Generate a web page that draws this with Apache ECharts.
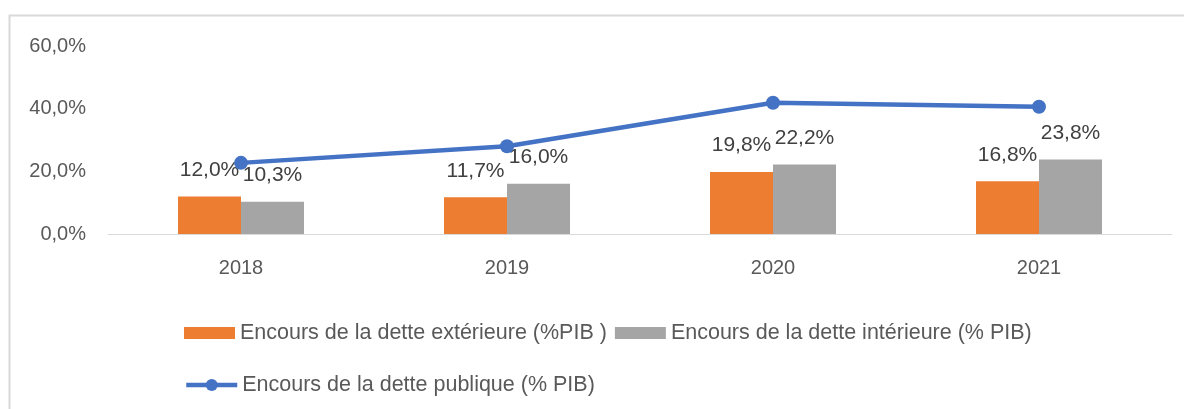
<!DOCTYPE html>
<html>
<head>
  <meta charset="utf-8">
  <title>Encours de la dette</title>
  <script src="https://cdn.jsdelivr.net/npm/echarts@6/dist/echarts.min.js"></script>
</head>
<body style="margin:0">
  <div id="container" style="height: 409px; width: 1184px"></div>
  <script>
    const years = ['2018', '2019', '2020', '2021'];
    const detteExterieure = [12.0, 11.7, 19.8, 16.8];
    const detteInterieure = [10.3, 16.0, 22.2, 23.8];
    const dettePublique = [22.7, 28.0, 41.9, 40.6];
    const yTicks = { min: 0, max: 60, interval: 20 };

    const names = [
      'Encours de la dette extérieure (%PIB )',
      'Encours de la dette intérieure (% PIB)',
      'Encours de la dette publique (% PIB)'
    ];

    const pct = function (v) {
      return v.toFixed(1).replace('.', ',') + '%';
    };
    const font = 'Liberation Sans, Arial, sans-serif';

    const myChart = echarts.init(document.getElementById('container'));
    const barLabel = {
      show: true,
      position: 'top',
      distance: 16,
      color: '#404040',
      fontSize: 21,
      fontFamily: font,
      formatter: function (p) { return pct(p.value); }
    };
    const option = {
      backgroundColor: '#fff',
      animation: false,
      graphic: [{
        type: 'rect',
        left: 7,
        top: 13,
        shape: { width: 1220, height: 440 },
        style: { fill: 'none', stroke: '#d9d9d9', lineWidth: 2 },
        silent: true
      }],
      grid: { left: 108, right: 12, top: 46, bottom: 175 },
      legend: [
        {
          data: [names[0], names[1]],
          icon: 'rect',
          left: 179,
          top: 317,
          itemWidth: 51,
          itemHeight: 12,
          itemGap: 8,
          textStyle: { color: '#595959', fontSize: 21.5, fontFamily: font }
        },
        {
          data: [names[2]],
          left: 179,
          top: 369,
          itemWidth: 51,
          itemHeight: 15,
          lineStyle: { width: 4.5 },
          textStyle: { color: '#595959', fontSize: 21.5, fontFamily: font }
        }
      ],
      xAxis: {
        type: 'category',
        data: years,
        axisLine: { lineStyle: { color: '#d9d9d9', width: 1 } },
        axisTick: { show: false },
        axisLabel: { color: '#595959', fontSize: 20, fontFamily: font, margin: 24 }
      },
      yAxis: {
        type: 'value',
        min: yTicks.min,
        max: yTicks.max,
        interval: yTicks.interval,
        splitLine: { show: false },
        axisLine: { show: false },
        axisTick: { show: false },
        axisLabel: {
          color: '#595959', fontSize: 20, fontFamily: font, margin: 22,
          formatter: function (v) { return pct(v); }
        }
      },
      series: [
        {
          name: names[0],
          type: 'bar',
          data: detteExterieure,
          barWidth: 63,
          barGap: '0%',
          itemStyle: { color: '#ed7d31' },
          label: barLabel
        },
        {
          name: names[1],
          type: 'bar',
          data: detteInterieure,
          barWidth: 63,
          itemStyle: { color: '#a5a5a5' },
          label: barLabel
        },
        {
          name: names[2],
          type: 'line',
          data: dettePublique,
          symbol: 'circle',
          symbolSize: 14,
          lineStyle: { color: '#4472c4', width: 4.5 },
          itemStyle: { color: '#4472c4' },
          z: 3
        }
      ]
    };
    myChart.setOption(option);
  </script>
</body>
</html>
